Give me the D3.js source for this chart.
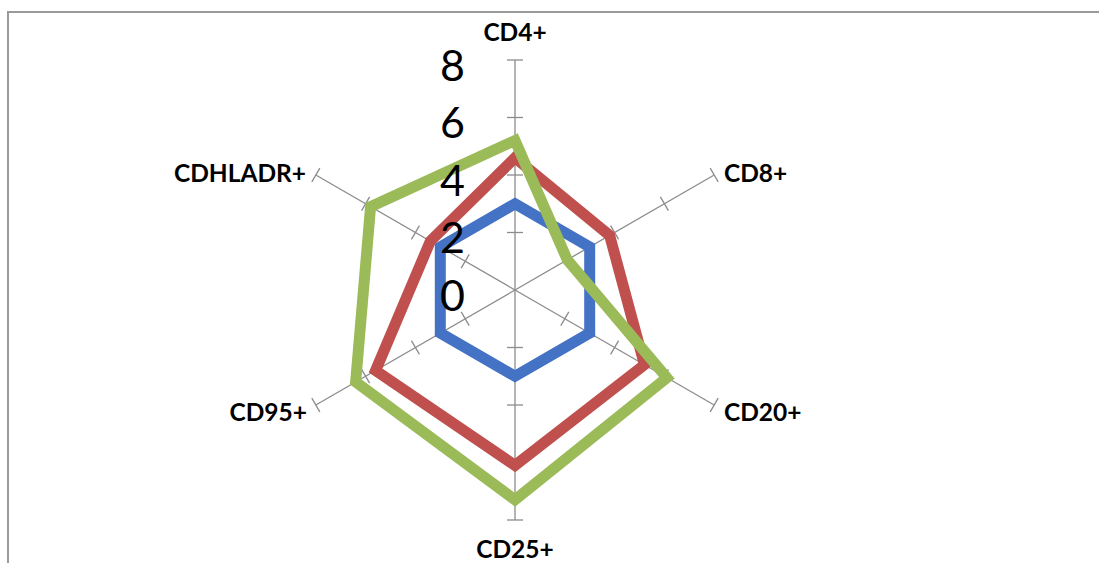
<!DOCTYPE html>
<html>
<head>
<meta charset="utf-8">
<script src="https://cdn.jsdelivr.net/npm/d3@7"></script>
<style>
  html, body { margin: 0; padding: 0; background: #fff; }
  svg { display: block; }
</style>
</head>
<body>
<svg id="chart" width="1099" height="563"></svg>
<script>
// Radar chart of surface markers, three series
const categories = ["CD4+", "CD8+", "CD20+", "CD25+", "CD95+", "CDHLADR+"];
const seriesBlue  = [3.0, 3.0, 3.0, 3.0, 3.0, 3.0];
const seriesRed   = [4.6, 3.8, 5.2, 6.1, 5.6, 3.4];
const seriesGreen = [5.2, 2.1, 6.1, 7.3, 6.4, 5.8];
const tickValues  = [0, 2, 4, 6, 8];
const seriesColors = ["#4472C4", "#C0504D", "#9BBB59"];

const svg = d3.select("#chart");
const cx = 515, cy = 290;
const r = d3.scaleLinear().domain([0, 8]).range([0, 230]);
const angle = d3.scaleLinear().domain([0, categories.length]).range([0, 2 * Math.PI]);

// Frame
svg.append("path")
  .attr("d", "M8,563 L8,12 L1099,12")
  .attr("fill", "none")
  .attr("stroke", "#9a9a9a")
  .attr("stroke-width", 2);

const g = svg.append("g").attr("transform", `translate(${cx},${cy})`);

function pt(i, v) {
  const a = angle(i) - Math.PI / 2;
  return [r(v) * Math.cos(a), r(v) * Math.sin(a)];
}

// Spokes with tick marks
categories.forEach((c, i) => {
  const [x2, y2] = pt(i, 8);
  g.append("line")
    .attr("x1", 0).attr("y1", 0).attr("x2", x2).attr("y2", y2)
    .attr("stroke", "#8c8c8c").attr("stroke-width", 1.3);
  const a = angle(i) - Math.PI / 2;
  const px = -Math.sin(a), py = Math.cos(a);
  tickValues.filter(t => t > 0).forEach(t => {
    const [tx, ty] = pt(i, t);
    g.append("line")
      .attr("x1", tx - px * 8).attr("y1", ty - py * 8)
      .attr("x2", tx + px * 8).attr("y2", ty + py * 8)
      .attr("stroke", "#8c8c8c").attr("stroke-width", 1.3);
  });
});

// Series polygons
const line = d3.line().curve(d3.curveLinearClosed);
[seriesBlue, seriesRed, seriesGreen].forEach((s, k) => {
  g.append("path")
    .attr("d", line(s.map((v, i) => pt(i, v))))
    .attr("fill", "none")
    .attr("stroke", seriesColors[k])
    .attr("stroke-width", 11)
    .attr("stroke-linejoin", "miter");
});

// Radial tick labels
g.selectAll("text.tick")
  .data(tickValues)
  .enter().append("text")
  .attr("class", "tick")
  .attr("x", -50)
  .attr("y", d => -r(d) + 4)
  .attr("text-anchor", "end")
  .attr("dominant-baseline", "central")
  .attr("font-family", "Lato, 'Liberation Sans', sans-serif")
  .attr("font-size", 43)
  .attr("fill", "#000")
  .text(d => d);

// Category labels
const labelPos = [
  { x: 0, y: -259, anchor: "middle" },
  { x: 209, y: -118, anchor: "start" },
  { x: 209, y: 121, anchor: "start" },
  { x: 0, y: 258, anchor: "middle" },
  { x: -208, y: 121, anchor: "end" },
  { x: -209, y: -118, anchor: "end" }
];
categories.forEach((c, i) => {
  g.append("text")
    .attr("x", labelPos[i].x)
    .attr("y", labelPos[i].y)
    .attr("text-anchor", labelPos[i].anchor)
    .attr("dominant-baseline", "central")
    .attr("font-family", "Lato, 'Liberation Sans', sans-serif")
    .attr("font-weight", "bold")
    .attr("font-size", 24.5)
    .attr("fill", "#000")
    .text(c);
});
</script>
</body>
</html>
